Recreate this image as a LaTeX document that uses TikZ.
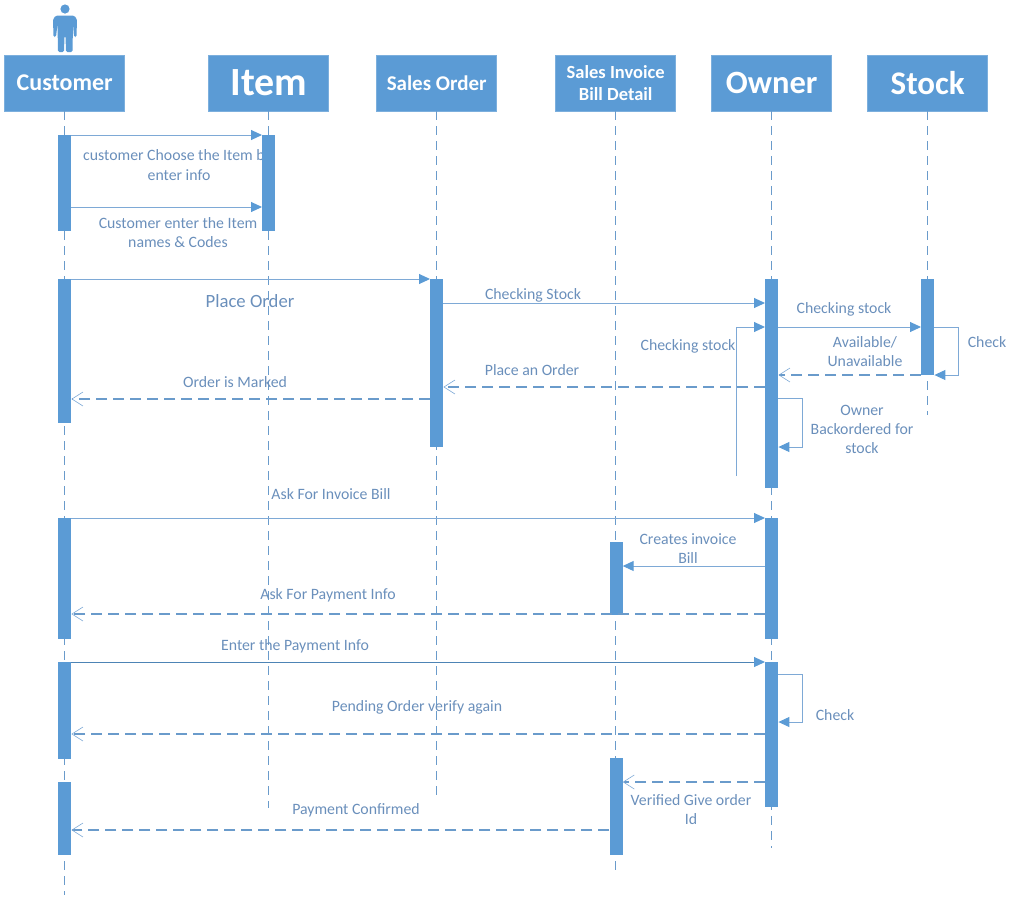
\documentclass[tikz,border=0pt]{standalone}
\usepackage{fontspec}
\setmainfont{Carlito}
\usetikzlibrary{arrows.meta}
\definecolor{boxblue}{HTML}{5B9BD5}
\definecolor{linkblue}{HTML}{7EA9D6}
\definecolor{txtblue}{HTML}{6A8FBB}
\definecolor{lifeblue}{HTML}{6A9BCB}
\tikzset{
 head/.style={draw=boxblue!80,fill=boxblue,text=white,font=\bfseries,minimum width=120pt,minimum height=56pt,align=center,inner sep=0pt,line width=.6pt},
 bar/.style={fill=boxblue,draw=none,minimum width=13pt,inner sep=0pt,anchor=north},
 lifeline/.style={draw=lifeblue,line width=1.1pt,dash pattern=on 9pt off 6pt},
 msg/.style={draw=linkblue,line width=1pt,-{Triangle[length=11pt,width=10pt,fill=boxblue,color=boxblue]}},
 ret/.style={draw=lifeblue,line width=1.1pt,dash pattern=on 11pt off 6pt,-{Straight Barb[length=11pt,width=14pt,line width=.6pt,color=linkblue]}},
 lbl/.style={text=txtblue,font=\fontsize{15.8}{19}\selectfont,align=center,inner sep=0pt},
}
\newcommand{\headbox}[5]{\node[head,font=\fontsize{#4}{#5}\selectfont\bfseries] (#1) at (#2,83) {#3};}
\newcommand{\actbar}[4]{\node[bar,minimum height=#4 pt - #3 pt] (#1) at (#2,#3) {};}
\begin{document}
\begin{tikzpicture}[x=1pt,y=-1pt]
\useasboundingbox (0,0) rectangle (1016,903);
% actor
\fill[boxblue] (65,9) circle (4.6);
\fill[boxblue,rounded corners=1.5pt] (53.5,37) -- (53,19) -- (56,15.5) -- (74,15.5) -- (77,19) -- (76.5,37) -- (74,37) -- (73,24) -- (72.5,52) -- (66,52) -- (65.5,36) -- (64.5,36) -- (64,52) -- (58,52) -- (57.5,24) -- (56,37) -- cycle;
% headers
\headbox{hc}{64.7}{Customer}{24}{28}
\headbox{hi}{268.7}{Item}{40}{46}
\headbox{hs}{436.7}{Sales Order}{21}{25}
\headbox{hb}{615.7}{Sales Invoice\\Bill Detail}{18.5}{22}
\headbox{ho}{771.7}{Owner}{32.5}{36}
\headbox{ht}{927.7}{Stock}{33}{36}
% lifeline ends
\coordinate (ec) at (64.7,895);
\coordinate (ei) at (268.7,808);
\coordinate (es) at (436.7,800);
\coordinate (eb) at (615.7,872);
\coordinate (eo) at (771.7,848);
\coordinate (et) at (927.7,415);
\draw[lifeline] (hc.south) -- (ec);
\draw[lifeline] (hi.south) -- (ei);
\draw[lifeline] (hs.south) -- (es);
\draw[lifeline] (hb.south) -- (eb);
\draw[lifeline] (ho.south) -- (eo);
\draw[lifeline] (ht.south) -- (et);
% labels (drawn before the bars, which cover them)
\node[lbl,anchor=west] (l1) at (83,156) {customer Choose the Item by};
\node[lbl] (l1b) at (179,175) {enter info};
\node[lbl] (l2) at (178,233) {Customer enter the Item\\names \& Codes};
\node[lbl,font=\fontsize{18.7}{22}\selectfont] (l3) at (250,301) {Place Order};
\node[lbl] (l4) at (533,295) {Checking Stock};
\node[lbl] (l5) at (844,309) {Checking stock};
\node[lbl] (l6) at (865,351.5) {Available/\\Unavailable};
\node[lbl] (l7) at (987,342.5) {Check};
\node[lbl] (l8) at (688,346) {Checking stock};
\node[lbl] (l9) at (532,370) {Place an Order};
\node[lbl] (l10) at (235,382) {Order is Marked};
\node[lbl] (l11) at (862,429) {Owner\\Backordered for\\stock};
\node[lbl] (l12) at (331,494) {Ask For Invoice Bill};
\node[lbl] (l13) at (688,549) {Creates invoice\\Bill};
\node[lbl] (l14) at (328,595) {Ask For Payment Info};
\node[lbl] (l15) at (295,646) {Enter the Payment Info};
\node[lbl] (l16) at (417,707) {Pending Order verify again};
\node[lbl] (l17) at (835,715.5) {Check};
\node[lbl] (l18) at (691,810) {Verified Give order\\Id};
\node[lbl] (l19) at (356,810) {Payment Confirmed};
% activation bars
\actbar{c1}{64.7}{135}{231}
\actbar{c2}{64.7}{279}{423}
\actbar{c3}{64.7}{518}{639}
\actbar{c4}{64.7}{662}{759}
\actbar{c5}{64.7}{782}{855}
\actbar{i1}{268.7}{135}{231}
\actbar{s1}{436.7}{279}{447}
\actbar{b1}{616}{542}{615}
\actbar{b2}{616}{758}{855}
\actbar{o1}{771.7}{279}{488}
\actbar{o2}{771.7}{518}{639}
\actbar{o3}{771.7}{662}{807}
\actbar{t1}{927.7}{279}{375}
% messages
\draw[msg] (c1.east |- 0,135) -- (i1.west |- 0,135);
\draw[msg] (c1.east |- 0,207) -- (i1.west |- 0,207);
\draw[msg] (c2.east |- 0,279) -- (s1.west |- 0,279);
\draw[msg] (s1.east |- 0,303) -- (o1.west |- 0,303);
\draw[msg] (o1.east |- 0,327) -- (t1.west |- 0,327);
\coordinate (fb) at (736,476);
\draw[msg] (fb) -- (736,327) -- (o1.west |- 0,327);
\draw[ret] (t1.west |- 0,375) -- (o1.east |- 0,375);
\draw[ret] (o1.west |- 0,387) -- (s1.east |- 0,387);
\draw[ret] (s1.west |- 0,399) -- (c2.east |- 0,399);
\draw[msg] (t1.east |- 0,327) -- (958,327) -- (958,375) -- (t1.east |- 0,375);
\draw[msg] (o1.east |- 0,398) -- (802,398) -- (802,447) -- (o1.east |- 0,447);
\draw[msg] (c3.east |- 0,518) -- (o2.west |- 0,518);
\draw[msg] (o2.west |- 0,566) -- (b1.east |- 0,566);
\draw[ret] (o2.west |- 0,614) -- (c3.east |- 0,614);
\draw[msg,draw=boxblue!85!black] (c4.east |- 0,662) -- (o3.west |- 0,662);
\draw[msg] (o3.east |- 0,674) -- (802,674) -- (802,722) -- (o3.east |- 0,722);
\draw[ret] (o3.west |- 0,734) -- (c4.east |- 0,734);
\draw[ret] (o3.west |- 0,782) -- (b2.east |- 0,782);
\draw[ret] (b2.west |- 0,830) -- (c5.east |- 0,830);
\end{tikzpicture}
\end{document}
